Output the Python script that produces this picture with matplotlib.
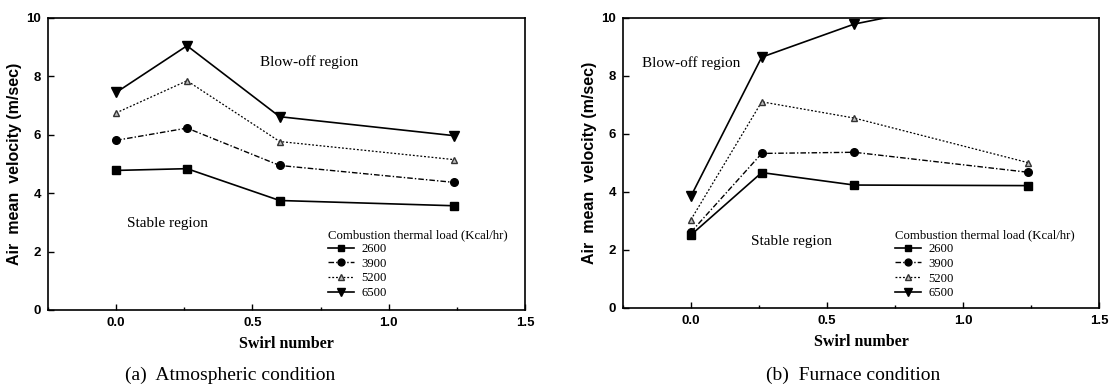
import numpy as np
import matplotlib.pyplot as plt
from matplotlib.ticker import MultipleLocator

# swirl numbers (same for both panels)
swirl = [0.0, 0.26, 0.6, 1.24]
loads = ['2600', '3900', '5200', '6500']

# (a) atmospheric condition
atm_2600 = [4.78, 4.84, 3.75, 3.57]
atm_3900 = [5.81, 6.23, 4.95, 4.37]
atm_5200 = [6.75, 7.85, 5.77, 5.15]
atm_6500 = [7.45, 9.05, 6.62, 5.97]

# (b) furnace condition (last 6500 point lies above the axis)
fur_2600 = [2.52, 4.67, 4.24, 4.22]
fur_3900 = [2.62, 5.33, 5.37, 4.68]
fur_5200 = [3.05, 7.11, 6.55, 5.01]
fur_6500 = [3.86, 8.65, 9.79, 11.0]

styles = [
    dict(ls='-', lw=1.2, marker='s', ms=5.5, color='black'),
    dict(ls=(0, (4, 1.5, 1, 1.5)), lw=1.0, marker='o', ms=5.5, color='black'),
    dict(ls=(0, (1.5, 1.5)), lw=0.9, marker='^', ms=5, color='black', mfc='0.75', mec='0.2'),
    dict(ls='-', lw=1.2, marker='v', ms=6.5, color='black'),
]

serif = 'Liberation Serif'
sans = 'Liberation Sans'

fig = plt.figure(figsize=(11.13, 3.85), dpi=100)
ax1 = fig.add_axes([48 / 1113, 75 / 385, 477 / 1113, 292 / 385])
ax2 = fig.add_axes([623 / 1113, 77 / 385, 476 / 1113, 290 / 385])

panels = [
    (ax1, [atm_2600, atm_3900, atm_5200, atm_6500], (0.71, 8.5), (0.19, 2.95), (0.574, 0.30)),
    (ax2, [fur_2600, fur_3900, fur_5200, fur_6500], (0.0, 8.45), (0.37, 2.3), (0.558, 0.295)),
]

for ax, series, blow, stable, leg_pos in panels:
    for vals, lab, st in zip(series, loads, styles):
        ax.plot(swirl, vals, label=lab, clip_on=True, **st)
    ax.set_xlim(-0.25, 1.5)
    ax.set_ylim(0, 10)
    ax.xaxis.set_major_locator(MultipleLocator(0.5))
    ax.xaxis.set_minor_locator(MultipleLocator(0.25))
    ax.yaxis.set_major_locator(MultipleLocator(2))
    ax.tick_params(direction='in', length=4, width=1, labelsize=9.5, pad=5)
    ax.tick_params(which='minor', direction='in', length=2, width=1)
    for lbl in ax.get_xticklabels() + ax.get_yticklabels():
        lbl.set_fontfamily(sans)
        lbl.set_fontweight('bold')
    for sp in ax.spines.values():
        sp.set_linewidth(1.2)
    ax.set_xlabel('Swirl number', family=serif, fontweight='bold', fontsize=11.5, labelpad=5)
    ax.set_ylabel('Air  mean  velocity (m/sec)', family=sans, fontweight='bold', fontsize=11.5, labelpad=3)
    ax.text(blow[0], blow[1], 'Blow-off region', family=serif, fontsize=11, ha='center', va='center')
    ax.text(stable[0], stable[1], 'Stable region', family=serif, fontsize=11, ha='center', va='center')
    leg = ax.legend(title='Combustion thermal load (Kcal/hr)', loc='upper left',
                    bbox_to_anchor=leg_pos, frameon=False, borderpad=0,
                    prop={'family': serif, 'size': 9.2},
                    title_fontproperties={'family': serif, 'size': 9.2},
                    handlelength=2.0, handletextpad=0.6, labelspacing=0.2,
                    alignment='left', markerscale=0.9)

fig.text(230 / 1113, 1 - 375 / 385, '(a)  Atmospheric condition', family=serif, fontsize=14,
         ha='center', va='center')
fig.text(853 / 1113, 1 - 375 / 385, '(b)  Furnace condition', family=serif, fontsize=14,
         ha='center', va='center')

fig.savefig('out.png', dpi=100)
